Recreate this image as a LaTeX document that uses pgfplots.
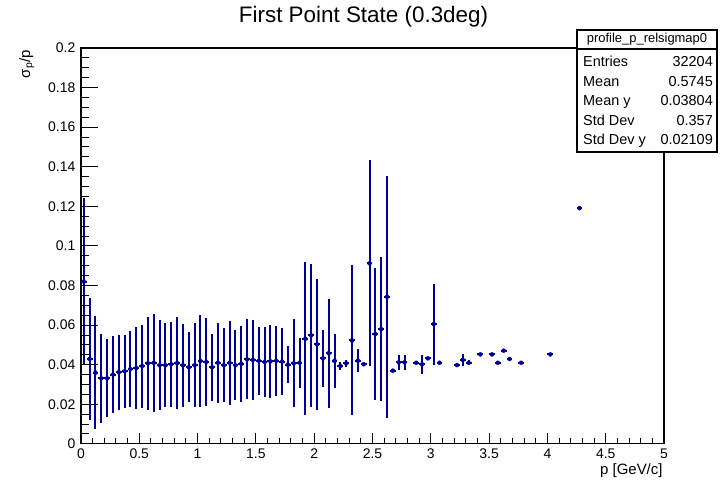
\documentclass[border=0pt]{standalone}
\usepackage{pgfplots}
\pgfplotsset{compat=1.18}
\usepackage{pgfplotstable}
\usepackage{fontspec}
\setmainfont{Liberation Sans}
\definecolor{rootblue}{RGB}{0,0,153}

\pgfplotstableread{
x y ey
0.025 0.082 0.042
0.075 0.0429 0.0307
0.125 0.036 0.0286
0.175 0.0331 0.0225
0.225 0.0331 0.0197
0.275 0.035 0.0195
0.325 0.0362 0.019
0.375 0.0367 0.0184
0.425 0.0378 0.0194
0.475 0.0383 0.0205
0.525 0.0393 0.021
0.575 0.0407 0.0236
0.625 0.041 0.0248
0.675 0.0397 0.0228
0.725 0.0397 0.0212
0.775 0.0402 0.0216
0.825 0.0408 0.0231
0.875 0.0397 0.021
0.925 0.0387 0.0177
0.975 0.0397 0.0212
1.025 0.0419 0.0232
1.075 0.0414 0.0223
1.125 0.0387 0.0169
1.175 0.041 0.0202
1.225 0.0397 0.0186
1.275 0.041 0.0211
1.325 0.0397 0.0177
1.375 0.0405 0.0192
1.425 0.0427 0.0202
1.475 0.0424 0.02
1.525 0.042 0.0171
1.575 0.0414 0.0179
1.625 0.0417 0.0183
1.675 0.042 0.0177
1.725 0.0416 0.0171
1.775 0.040 0.0094
1.825 0.0407 0.0222
1.875 0.041 0.0126
1.925 0.0531 0.0386
1.975 0.0548 0.036
2.025 0.0503 0.033
2.075 0.0432 0.0143
2.125 0.0458 0.0276
2.175 0.042 0.0136
2.225 0.0393 0.0020
2.275 0.0407 0.0018
2.325 0.0523 0.0379
2.375 0.042 0.0059
2.425 0.0402 0.001
2.475 0.0912 0.052
2.525 0.0555 0.0335
2.575 0.058 0.0365
2.625 0.0743 0.061
2.675 0.037 0
2.725 0.0412 0.0038
2.775 0.0412 0.0037
2.875 0.041 0.0008
2.925 0.0402 0.0048
2.975 0.0432 0
3.025 0.0605 0.0205
3.075 0.041 0
3.225 0.0398 0.0005
3.275 0.0424 0.0032
3.325 0.041 0.0012
3.425 0.0452 0
3.525 0.0452 0
3.575 0.041 0
3.625 0.0471 0
3.675 0.0429 0
3.775 0.041 0
4.025 0.0452 0
4.275 0.1191 0
}\profdata

\pgfplotsset{rootframe/.style={
  at={(80.9bp,39.1bp)}, anchor=south west,
  scale only axis, width=583.1bp, height=395.9bp,
  xmin=0, xmax=5, ymin=0, ymax=0.2,
  tick align=inside,
  tick style={color=black, line width=1bp},
  /pgf/number format/assume math mode=true,
  /pgf/number format/fixed, /pgf/number format/precision=2,
  ticklabel style={font=\fontsize{14}{16}\selectfont},
  scaled ticks=false,
}}

\begin{document}
\begin{tikzpicture}[x=1bp,y=1bp]
\useasboundingbox (0,0) rectangle (727,483);
% x ticks, frame and data
\begin{axis}[rootframe,
  xtick distance=0.5, minor x tick num=4, xtick pos=bottom,
  ytick=\empty,
  major tick length=11bp, minor tick length=5.5bp,
  axis line style={line width=1.2bp},
  xticklabel style={yshift=-1bp},
  clip=true,
]
\addplot[color=rootblue, only marks, mark=none,
  error bars/.cd, x dir=both, x fixed=0.025, y dir=both, y explicit,
  error mark=none, error bar style={line width=2bp, color=rootblue}]
  table[x=x, y=y, y error=ey]{\profdata};
\end{axis}
% y ticks
\begin{axis}[rootframe,
  xtick=\empty,
  ytick distance=0.02, minor y tick num=3, ytick pos=left,
  major tick length=17.5bp, minor tick length=8.5bp,
  axis line style={draw=none},
  yticklabel style={xshift=-2bp},
]
\end{axis}
% title
\node[anchor=base, inner sep=0pt, font=\fontsize{22.5}{26}\selectfont] at (363.5,460.3) {First Point State (0.3deg)};
% axis titles
\node[anchor=base east, inner sep=0pt, font=\fontsize{15}{17}\selectfont] at (662.7,8.7) {p [GeV/c]};
\node[anchor=base east, rotate=90, inner sep=0pt, font=\fontsize{15}{17}\selectfont] at (30,433) {σ\textsubscript{p}/p};
% stats box
\draw[line width=1.2bp, fill=white] (577,331) rectangle (717,453);
\draw[line width=1.2bp] (577,434) -- (717,434);
\node[anchor=center, inner sep=0pt, font=\fontsize{13}{15}\selectfont] at (647,443.5) {profile\_p\_relsigmap0};
\begin{scope}[font=\fontsize{14.5}{16}\selectfont]
\node[anchor=base west, inner sep=0pt] at (583,416) {Entries};
\node[anchor=base east, inner sep=0pt] at (713,416) {32204};
\node[anchor=base west, inner sep=0pt] at (583,396.5) {Mean};
\node[anchor=base east, inner sep=0pt] at (713,396.5) {0.5745};
\node[anchor=base west, inner sep=0pt] at (583,377) {Mean y};
\node[anchor=base east, inner sep=0pt] at (713,377) {0.03804};
\node[anchor=base west, inner sep=0pt] at (583,357.5) {Std Dev};
\node[anchor=base east, inner sep=0pt] at (713,357.5) {0.357};
\node[anchor=base west, inner sep=0pt] at (583,338) {Std Dev y};
\node[anchor=base east, inner sep=0pt] at (713,338) {0.02109};
\end{scope}
\end{tikzpicture}
\end{document}
